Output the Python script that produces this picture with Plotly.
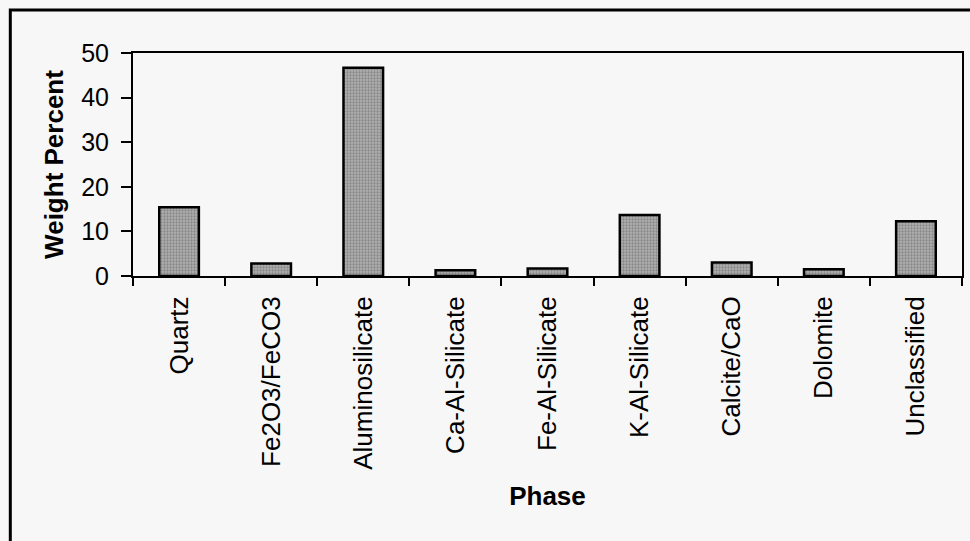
import plotly.graph_objects as go

phases = ["Quartz", "Fe2O3/FeCO3", "Aluminosilicate", "Ca-Al-Silicate", "Fe-Al-Silicate",
          "K-Al-Silicate", "Calcite/CaO", "Dolomite", "Unclassified"]
weight_percent = [15.4, 2.8, 46.7, 1.3, 1.7, 13.7, 3.0, 1.5, 12.3]
y_ticks = [0, 10, 20, 30, 40, 50]

BG = "#f7f7f7"
FONT = "Liberation Sans, Arial, sans-serif"

fig = go.Figure(go.Bar(
    x=phases, y=weight_percent, width=0.43,
    marker=dict(color="#969696", line=dict(color="black", width=2.5),
                pattern=dict(shape=".", fgcolor="#5e5e5e", bgcolor="#b0b0b0", size=3, solidity=0.45)),
))

fig.update_layout(
    width=970, height=541, autosize=False,
    margin=dict(l=133, r=6, t=53, b=265),
    paper_bgcolor=BG, plot_bgcolor=BG,
    font=dict(family=FONT, color="black", size=25),
    showlegend=False,
    shapes=[dict(type="rect", xref="paper", yref="paper",
                 x0=-0.148, x1=1.2, y0=-2.0, y1=1.193,
                 line=dict(color="black", width=3), fillcolor="rgba(0,0,0,0)", layer="below")],
)

fig.update_xaxes(
    type="category", tickangle=-90, tickson="boundaries", ticks="outside", ticklen=8,
    tickwidth=1.5, tickcolor="black", tickfont=dict(size=26, family=FONT), ticklabelstandoff=8,
    showline=True, linecolor="black", linewidth=2, mirror=True, showgrid=False,
    title=dict(text="Phase", font=dict(size=26, family=FONT, weight="bold"), standoff=18),
)
fig.update_yaxes(
    range=[0, 50], tickvals=y_ticks, ticks="outside", ticklen=10, tickwidth=1.5,
    tickcolor="black", tickfont=dict(size=25, family=FONT), ticklabelstandoff=7,
    showline=True, linecolor="black", linewidth=2, mirror=True, showgrid=False, zeroline=False,
    title=dict(text="Weight Percent", font=dict(size=26, family=FONT, weight="bold"), standoff=10),
)

fig.write_html("out.html", config={"displayModeBar": False},
               post_script="document.body.style.margin='0';document.body.style.padding='0';")
